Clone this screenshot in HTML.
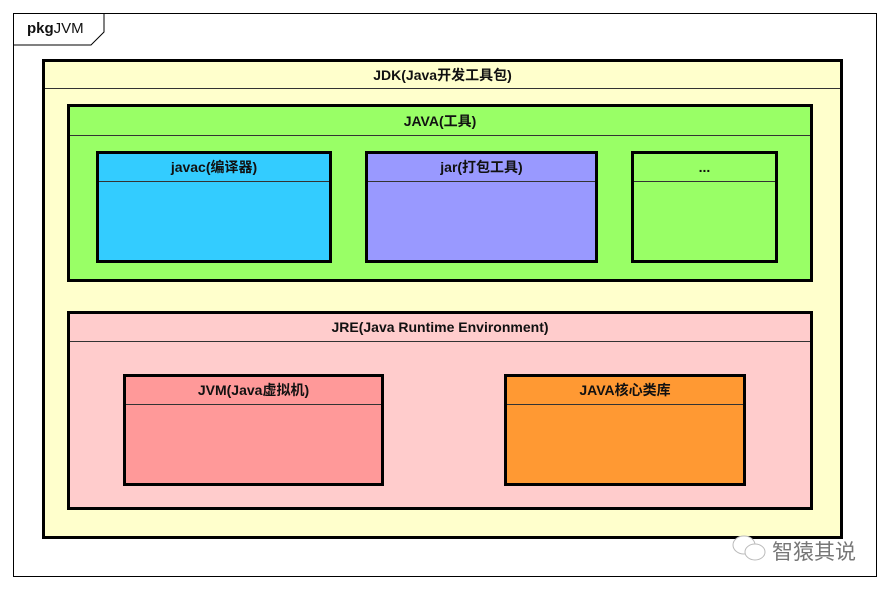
<!DOCTYPE html>
<html><head><meta charset="utf-8"><style>
body{margin:0;width:889px;height:590px;background:#fff;position:relative;font-family:"Liberation Sans","Noto Sans CJK SC",sans-serif;overflow:hidden}
.b{position:absolute;box-sizing:border-box;border:3px solid #000}
.h{position:absolute;left:0;right:0;top:0;border-bottom:1px solid #333;text-align:center;font-weight:bold;font-size:14px;color:#111}
</style></head><body>
<div style="position:absolute;left:13px;top:13px;width:864px;height:564px;border:1px solid #000;box-sizing:border-box"></div>
<svg style="position:absolute;left:13px;top:13px" width="100" height="34"><polyline points="0,32 78,32 91,19 91,0" fill="none" stroke="#000" stroke-width="1"/></svg>
<div style="position:absolute;left:27px;top:20px;font-size:15px;color:#111"><b>pkg</b>JVM</div>

<div class="b" style="left:42px;top:59px;width:801px;height:480px;background:#ffffcc"><div class="h" style="height:26px;line-height:26px">JDK(Java开发工具包)</div></div>

<div class="b" style="left:67px;top:104px;width:746px;height:178px;background:#99ff66"><div class="h" style="height:28px;line-height:28px">JAVA(工具)</div></div>
<div class="b" style="left:96px;top:151px;width:236px;height:112px;background:#33ccff"><div class="h" style="height:27px;line-height:27px">javac(编译器)</div></div>
<div class="b" style="left:365px;top:151px;width:233px;height:112px;background:#9999ff"><div class="h" style="height:27px;line-height:27px">jar(打包工具)</div></div>
<div class="b" style="left:631px;top:151px;width:147px;height:112px;background:#99ff66"><div class="h" style="height:27px;line-height:27px">...</div></div>

<div class="b" style="left:67px;top:311px;width:746px;height:199px;background:#ffcccc"><div class="h" style="height:27px;line-height:27px">JRE(Java Runtime Environment)</div></div>
<div class="b" style="left:123px;top:374px;width:261px;height:112px;background:#ff9999"><div class="h" style="height:27px;line-height:27px">JVM(Java虚拟机)</div></div>
<div class="b" style="left:504px;top:374px;width:242px;height:112px;background:#ff9933"><div class="h" style="height:27px;line-height:27px">JAVA核心类库</div></div>

<svg style="position:absolute;left:730px;top:533px" width="40" height="32"><ellipse cx="14" cy="12" rx="11" ry="9" fill="#fff" stroke="#bbb"/><ellipse cx="25" cy="19" rx="10" ry="8" fill="#fff" stroke="#bbb"/></svg>
<div style="position:absolute;left:772px;top:538px;font-size:21px;color:#777;font-family:'Noto Sans CJK SC',sans-serif;line-height:26px">智猿其说</div>
</body></html>
